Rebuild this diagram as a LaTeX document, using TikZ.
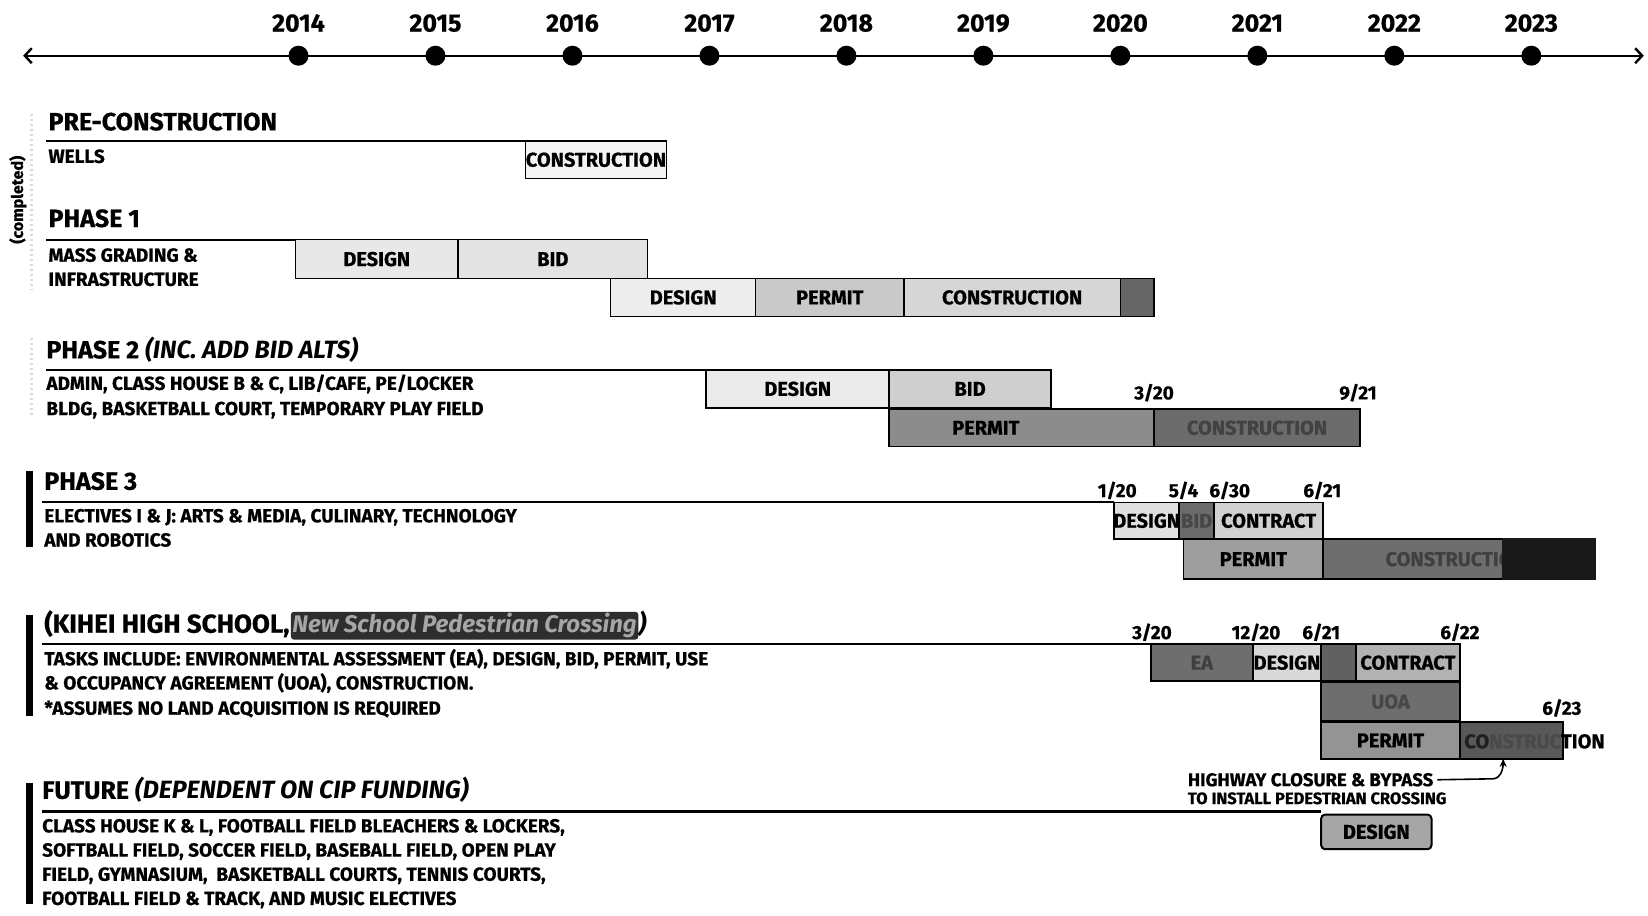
\documentclass[tikz,border=0pt]{standalone}
\usepackage{fontspec}
\setmainfont{Fira Sans}[BoldFeatures={FakeBold=0.6}]
\usetikzlibrary{arrows.meta,calc}
\newcommand\lblfont{\bfseries\fontsize{20}{20}\selectfont}
\newcommand\headfont{\bfseries\fontsize{25}{25}\selectfont}
\newcommand\bodyfont{\bfseries\fontsize{19}{19}\selectfont}
\newcommand\gseg[7]{\node[seg,#6,minimum width={(#3-#2)*1.051pt},minimum height={(#5-#4)*1.051pt}] (#1) at ({(#2+#3)/2},{(#4+#5)/2}) {\makebox[0pt]{#7}};}
\tikzset{
  seg/.style={draw=black, line width=1.6pt, inner sep=0pt, outer sep=0pt, font=\lblfont},
  seglbl/.style={inner sep=0pt, font=\lblfont},
  head/.style={anchor=base west, inner sep=0pt, font=\headfont},
  body/.style={anchor=base west, inner sep=0pt, font=\bodyfont},
  datelbl/.style={anchor=base, inner sep=0pt, font=\bfseries\fontsize{19}{19}\selectfont},
  yrlbl/.style={anchor=base, inner sep=0pt, font=\bfseries\fontsize{25}{25}\selectfont},
  dot/.style={circle, fill=black, inner sep=0pt, minimum size=20pt},
  rulel/.style={line width=2.2pt, black},
  sidebar/.style={fill=black},
  scrib/.style={fill=black!82, text=black!35, rounded corners=3pt, inner sep=1.5pt, font=\bfseries\itshape\fontsize{24}{24}\selectfont}
}
\begin{document}
\begin{tikzpicture}[x=1.051pt,y=-1.051pt]
\useasboundingbox (0,0) rectangle (1568,871);
\fill[white] (0,0) rectangle (1568,871);
% timeline
\coordinate (tlL) at (22,53);
\coordinate (tlR) at (1564,53);
\draw[line width=2.4pt, {Straight Barb[length=7pt,width=15pt,line width=2.4pt]}-{Straight Barb[length=7pt,width=15pt,line width=2.4pt]}] (tlL) -- (tlR);
\foreach \yr [count=\i from 0] in {2014,2015,2016,2017,2018,2019,2020,2021,2022,2023}{
  \node[dot] (y\yr) at ({284+130.33*\i},53) {};
  \node[yrlbl] (ly\yr) at ({284+130.33*\i},30) {\yr};
}
% completed
\draw[black!14, line width=3pt, dash pattern=on 2pt off 3pt] (30,108) -- (30,275);
\draw[black!14, line width=3pt, dash pattern=on 2pt off 3pt] (30,322) -- (30,395);
\node[rotate=90, inner sep=0pt, font=\bfseries\fontsize{16}{16}\selectfont] (compl) at (17,190) {(completed)};
% pre-construction
\node[head] (hpre) at (46,124) {PRE-CONSTRUCTION};
\node[body] (wells) at (46,155) {WELLS};
\gseg{pc}{500}{634}{134}{170}{fill=black!4}{CONSTRUCTION}
\coordinate (rpre) at (44,134);
\draw[rulel] (rpre) -- (pc.north west);
% phase 1
\node[head] (hp1) at (46,216) {PHASE 1};
\node[body] (p1t1) at (46,249) {MASS GRADING \&};
\node[body] (p1t2) at (46,272) {INFRASTRUCTURE};
\gseg{p1d}{281}{436}{228}{265}{fill=black!9}{DESIGN}
\gseg{p1b}{436}{616}{228}{265}{fill=black!11}{BID}
\gseg{p1d2}{581}{719}{265}{301}{fill=black!7}{DESIGN}
\gseg{p1p}{719}{860}{265}{301}{fill=black!21}{PERMIT}
\gseg{p1c}{860}{1066}{265}{301}{fill=black!16}{CONSTRUCTION}
\gseg{p1x}{1066}{1098}{265}{301}{fill=black!60}{}
\coordinate (rp1) at (44,228);
\draw[rulel] (rp1) -- (p1d.north west);
% phase 2
\node[head] (hp2) at (44,341) {PHASE 2 \textit{(INC. ADD BID ALTS)}};
\node[body] (p2t1) at (44,371) {ADMIN, CLASS HOUSE B \& C, LIB/CAFE, PE/LOCKER};
\node[body] (p2t2) at (44,395) {BLDG, BASKETBALL COURT, TEMPORARY PLAY FIELD};
\gseg{p2d}{672}{846}{352}{388}{fill=black!8}{DESIGN}
\gseg{p2b}{846}{1000}{352}{388}{fill=black!19}{BID}
\gseg{p2p}{846}{1098}{389}{425}{fill=black!45}{}
\node[seglbl] (p2pl) at (938,407) {PERMIT};
\gseg{p2c}{1098}{1294}{389}{425}{fill=black!58,text=black!74}{CONSTRUCTION}
\coordinate (rp2) at (44,352);
\draw[rulel] (rp2) -- (p2d.north west);
\node[datelbl] (d2a) at (1098,380) {3/20};
\node[datelbl] (d2b) at (1292,380) {9/21};
% phase 3
\fill[sidebar] (25,448) rectangle (31,520);
\node[head] (hp3) at (42,466) {PHASE 3};
\node[body] (p3t1) at (42,497) {ELECTIVES I \& J: ARTS \& MEDIA, CULINARY, TECHNOLOGY};
\node[body] (p3t2) at (42,520) {AND ROBOTICS};
\gseg{p3d}{1060}{1122}{478}{513}{fill=black!12}{DESIGN}
\gseg{p3b}{1122}{1155}{478}{513}{fill=black!58,text=black!72}{BID}
\gseg{p3ct}{1155}{1259}{478}{513}{fill=black!18}{CONTRACT}
\gseg{p3p}{1126}{1259}{513}{551}{fill=black!38}{PERMIT}
\gseg{p3c}{1259}{1430}{513}{551}{fill=black!57}{}
\node[seglbl, text=black!75] (p3cl) at (1385,532) {CONSTRUCTION};
\gseg{p3x}{1430}{1518}{513}{551}{fill=black!90,draw=black!90}{}
\coordinate (rp3) at (40,478);
\draw[rulel] (rp3) -- (p3d.north west);
\node[datelbl] (d3a) at (1063,473) {1/20};
\node[datelbl] (d3b) at (1126,473) {5/4};
\node[datelbl] (d3c) at (1170,473) {6/30};
\node[datelbl] (d3d) at (1258,473) {6/21};
% kihei
\fill[sidebar] (25,585) rectangle (31,681);
\node[head, font=\bfseries\fontsize{26}{26}\selectfont] (hk) at (42,602) {(KIHEI HIGH SCHOOL,};
\node[scrib, anchor=base west] (hks) at ([xshift=1pt]hk.base east) {New School Pedestrian Crossing};
\node[head, anchor=base west] (hkp) at (hks.base east) {\textit{)}};
\gseg{kea}{1095}{1192}{613}{648}{fill=black!57,text=black!75}{EA}
\gseg{kd}{1192}{1257}{613}{648}{fill=black!15}{DESIGN}
\gseg{kb}{1257}{1290}{613}{648}{fill=black!62}{}
\gseg{kct}{1290}{1389}{613}{648}{fill=black!30}{CONTRACT}
\gseg{kuoa}{1257}{1389}{649}{686}{fill=black!57,text=black!72}{UOA}
\gseg{kp}{1257}{1389}{687}{722}{fill=black!42}{PERMIT}
\gseg{kc}{1389}{1487}{687}{722}{fill=black!65}{}
\node[seglbl, anchor=base east] (kcl) at (1527,712) {{\color{black!88}CO}{\color{black!71}NSTRUC}TION};
\coordinate (rk) at (40,613);
\draw[rulel] (rk) -- (kea.north west);
\node[body] (kt1) at (42,633) {TASKS INCLUDE: ENVIRONMENTAL ASSESSMENT (EA), DESIGN, BID, PERMIT, USE};
\node[body] (kt2) at (42,656) {\& OCCUPANCY AGREEMENT (UOA), CONSTRUCTION.};
\node[body] (kt3) at (42,680) {*ASSUMES NO LAND ACQUISITION IS REQUIRED};
\node[datelbl] (dka) at (1096,608) {3/20};
\node[datelbl] (dkb) at (1195,608) {12/20};
\node[datelbl] (dkc) at (1257,608) {6/21};
\node[datelbl] (dkd) at (1389,608) {6/22};
\node[datelbl] (dke) at (1486,680) {6/23};
% annotation
\node[body, font=\bfseries\fontsize{18.5}{18.5}\selectfont] (hw1) at (1130,748) {HIGHWAY CLOSURE \& BYPASS};
\node[body, font=\bfseries\fontsize{16.5}{16.5}\selectfont] (hw2) at (1130,765) {TO INSTALL PEDESTRIAN CROSSING};
\coordinate (kcarr) at ($(kc.south west)!0.42!(kc.south east)$);
\coordinate (bendpt) at (1420,741);
\draw[line width=1.6pt, -{Stealth[length=8pt,width=7pt]}] ([xshift=4pt]hw1.east) -- (bendpt) to[out=0,in=-90] (kcarr);
% future
\fill[sidebar] (25,745) rectangle (31,860);
\node[head] (hf) at (40,760) {FUTURE \textit{(DEPENDENT ON CIP FUNDING)}};
\gseg{fd}{1257}{1362}{775}{808}{fill=black!35,rounded corners=4pt,line width=2pt}{DESIGN}
\coordinate (rf) at (40,772);
\draw[rulel] (rf) -- (1257,772);
\node[body] (ft1) at (40,792) {CLASS HOUSE K \& L, FOOTBALL FIELD BLEACHERS \& LOCKERS,};
\node[body] (ft2) at (40,815) {SOFTBALL FIELD, SOCCER FIELD, BASEBALL FIELD, OPEN PLAY};
\node[body] (ft3) at (40,838) {FIELD, GYMNASIUM,\ \ BASKETBALL COURTS, TENNIS COURTS,};
\node[body] (ft4) at (40,861) {FOOTBALL FIELD \& TRACK, AND MUSIC ELECTIVES};
\end{tikzpicture}
\end{document}
